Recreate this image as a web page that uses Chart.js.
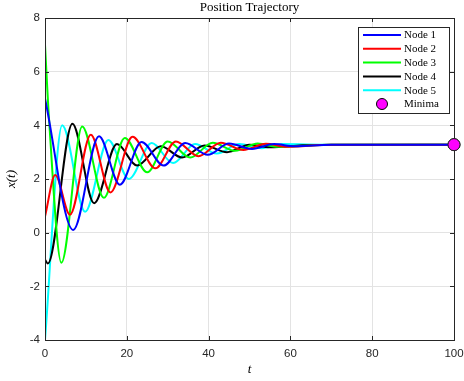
<!DOCTYPE html>
<html>
<head>
<meta charset="utf-8">
<script src="https://cdn.jsdelivr.net/npm/chart.js@4.4.1/dist/chart.umd.min.js"></script>
<style>
  html, body { margin: 0; padding: 0; background: #fff; }
  #wrap { width: 464px; height: 381px; }
</style>
</head>
<body>
<div id="wrap"><canvas id="trajChart" width="464" height="381"></canvas></div>
<script>
// values (t, x) at turning points
const node1T = [0, 6.9, 13.2, 18.3, 23.6, 29.0, 34.3, 39.8, 45.0, 50.6, 56.0, 61.0, 70, 100];
const node1Y = [5.0, 0.1, 3.59, 1.79, 3.38, 2.5, 3.34, 2.9, 3.32, 3.12, 3.3, 3.22, 3.28, 3.28];

const node2T = [0, 2.5, 6.1, 11.2, 16.0, 21.4, 27.0, 32.0, 37.5, 43.0, 48.5, 54.0, 59.0, 70, 100];
const node2Y = [0.6, 2.15, 0.67, 3.65, 1.5, 3.57, 2.4, 3.4, 2.85, 3.35, 3.08, 3.31, 3.2, 3.28, 3.28];

const node3T = [0, 1.0, 4.0, 9.1, 14.4, 19.5, 25.0, 30.0, 35.5, 41.0, 46.5, 52.0, 57.0, 70, 100];
const node3Y = [7.0, 4.2, -1.12, 3.96, 1.3, 3.53, 2.25, 3.4, 2.8, 3.35, 3.05, 3.32, 3.2, 3.28, 3.28];

const node4T = [0, 0.7, 6.7, 12.0, 17.6, 22.5, 28.3, 33.5, 39.0, 44.5, 50.0, 55.0, 65, 100];
const node4Y = [-1.0, -1.15, 4.06, 1.1, 3.3, 2.5, 3.22, 2.8, 3.25, 3.0, 3.28, 3.18, 3.27, 3.28];

const node5T = [0, 4.2, 9.8, 15.5, 20.5, 26.1, 31.3, 36.7, 42.0, 47.5, 53.0, 58.0, 70, 100];
const node5Y = [-4.0, 4.0, 0.78, 3.45, 2.0, 3.34, 2.6, 3.3, 2.95, 3.3, 3.15, 3.3, 3.28, 3.28];

const minimaT = [100];
const minimaY = [3.28];

const seriesNames = ['Node 1', 'Node 2', 'Node 3', 'Node 4', 'Node 5', 'Minima'];
const seriesColors = ['#0000ff', '#ff0000', '#00ff00', '#000000', '#00ffff', '#ff00ff'];

const xTicks = [0, 20, 40, 60, 80, 100];
const yTicks = [-4, -2, 0, 2, 4, 6, 8];

function toPoints(ts, ys) {
    return ts.map((t, i) => ({ x: t, y: ys[i] }));
}

const lineSets = [
    [node1T, node1Y], [node2T, node2Y], [node3T, node3Y], [node4T, node4Y], [node5T, node5Y]
].map((pair, i) => ({
    label: seriesNames[i],
    data: toPoints(pair[0], pair[1]),
    borderColor: seriesColors[i],
    backgroundColor: seriesColors[i],
    borderWidth: 2,
    pointRadius: 0,
    fill: false,
    cubicInterpolationMode: 'monotone',
}));

const minimaSet = {
    label: seriesNames[5],
    data: toPoints(minimaT, minimaY),
    showLine: false,
    pointRadius: 6,
    pointBackgroundColor: seriesColors[5],
    pointBorderColor: '#000',
    pointBorderWidth: 1,
    clip: false,
};

const serif = '"Liberation Serif", "DejaVu Serif", serif';
const sans = '"Liberation Sans", Arial, sans-serif';

// box, inward ticks, title, axis labels and legend (matlab look)
const matlabDecor = {
    id: 'matlabDecor',
    afterDatasetsDraw(chart) {
        const ctx = chart.ctx;
        const a = chart.chartArea;
        const sx = chart.scales.x, sy = chart.scales.y;
        ctx.save();
        ctx.strokeStyle = '#262626';
        ctx.lineWidth = 1;
        ctx.beginPath();
        xTicks.forEach(v => {
            const px = Math.round(sx.getPixelForValue(v)) + 0.5;
            ctx.moveTo(px, a.bottom); ctx.lineTo(px, a.bottom - 4);
            ctx.moveTo(px, a.top); ctx.lineTo(px, a.top + 4);
        });
        yTicks.forEach(v => {
            const py = Math.round(sy.getPixelForValue(v)) + 0.5;
            ctx.moveTo(a.left, py); ctx.lineTo(a.left + 4, py);
            ctx.moveTo(a.right, py); ctx.lineTo(a.right - 4, py);
        });
        ctx.stroke();
        ctx.strokeRect(Math.round(a.left) + 0.5, Math.round(a.top) + 0.5,
            Math.round(a.right - a.left), Math.round(a.bottom - a.top));

        // redraw minima on top of the box
        const mp = chart.getDatasetMeta(5).data[0];
        ctx.beginPath();
        ctx.arc(mp.x, mp.y, 6, 0, Math.PI * 2);
        ctx.fillStyle = seriesColors[5];
        ctx.fill();
        ctx.stroke();

        // title + axis labels
        ctx.fillStyle = '#000';
        ctx.textAlign = 'center';
        ctx.textBaseline = 'middle';
        ctx.font = '13px ' + serif;
        ctx.fillText('Position Trajectory', (a.left + a.right) / 2, 8);
        ctx.font = 'italic 13px ' + serif;
        ctx.fillText('t', (a.left + a.right) / 2, 370);
        ctx.save();
        ctx.translate(12, (a.top + a.bottom) / 2);
        ctx.rotate(-Math.PI / 2);
        ctx.fillText('x(t)', 0, 0);
        ctx.restore();

        // legend
        const lx = 358, ly = 27, lw = 91, lh = 86, row = 13.8;
        ctx.fillStyle = '#fff';
        ctx.fillRect(lx, ly, lw, lh);
        ctx.strokeStyle = '#262626';
        ctx.strokeRect(lx + 0.5, ly + 0.5, lw, lh);
        ctx.font = '11px ' + serif;
        ctx.textAlign = 'left';
        chart.data.datasets.forEach((ds, i) => {
            const y = ly + 8 + i * row;
            if (ds.showLine === false) {
                ctx.beginPath();
                ctx.arc(382, y, 5.5, 0, Math.PI * 2);
                ctx.fillStyle = ds.pointBackgroundColor;
                ctx.fill();
                ctx.strokeStyle = '#000';
                ctx.stroke();
            } else {
                ctx.beginPath();
                ctx.moveTo(363, y); ctx.lineTo(401, y);
                ctx.strokeStyle = ds.borderColor;
                ctx.lineWidth = 2;
                ctx.stroke();
                ctx.lineWidth = 1;
            }
            ctx.fillStyle = '#000';
            ctx.fillText(ds.label, 404, y + 0.5);
        });
        ctx.restore();
    }
};

const trajConfig = {
    type: 'line',
    data: { datasets: [...lineSets, minimaSet] },
    options: {
        responsive: false,
        animation: false,
        layout: { padding: { top: 18, right: 10, left: 0, bottom: 0 } },
        plugins: {
            legend: { display: false },
            title: { display: false },
            tooltip: { enabled: false },
        },
        scales: {
            x: {
                type: 'linear',
                min: 0,
                max: 100,
                afterFit: (scale) => {
                    scale.height = 41;
                    scale.paddingLeft = 0;
                    scale.paddingRight = 0;
                },
                afterBuildTicks: (scale) => { scale.ticks = xTicks.map(v => ({ value: v })); },
                border: { display: false },
                grid: { color: '#e3e3e3', drawTicks: false },
                ticks: { padding: 7, color: '#262626', font: { family: sans, size: 11.5 } },
            },
            y: {
                type: 'linear',
                min: -4,
                max: 8,
                afterFit: (scale) => {
                    scale.width = 45;
                    scale.paddingTop = 0;
                    scale.paddingBottom = 0;
                },
                afterBuildTicks: (scale) => { scale.ticks = yTicks.map(v => ({ value: v })); },
                border: { display: false },
                grid: { color: '#e3e3e3', drawTicks: false },
                ticks: { padding: 5, color: '#262626', font: { family: sans, size: 11.5 } },
            }
        }
    },
    plugins: [matlabDecor]
};

const trajChart = new Chart(document.getElementById('trajChart').getContext('2d'), trajConfig);
</script>
</body>
</html>
